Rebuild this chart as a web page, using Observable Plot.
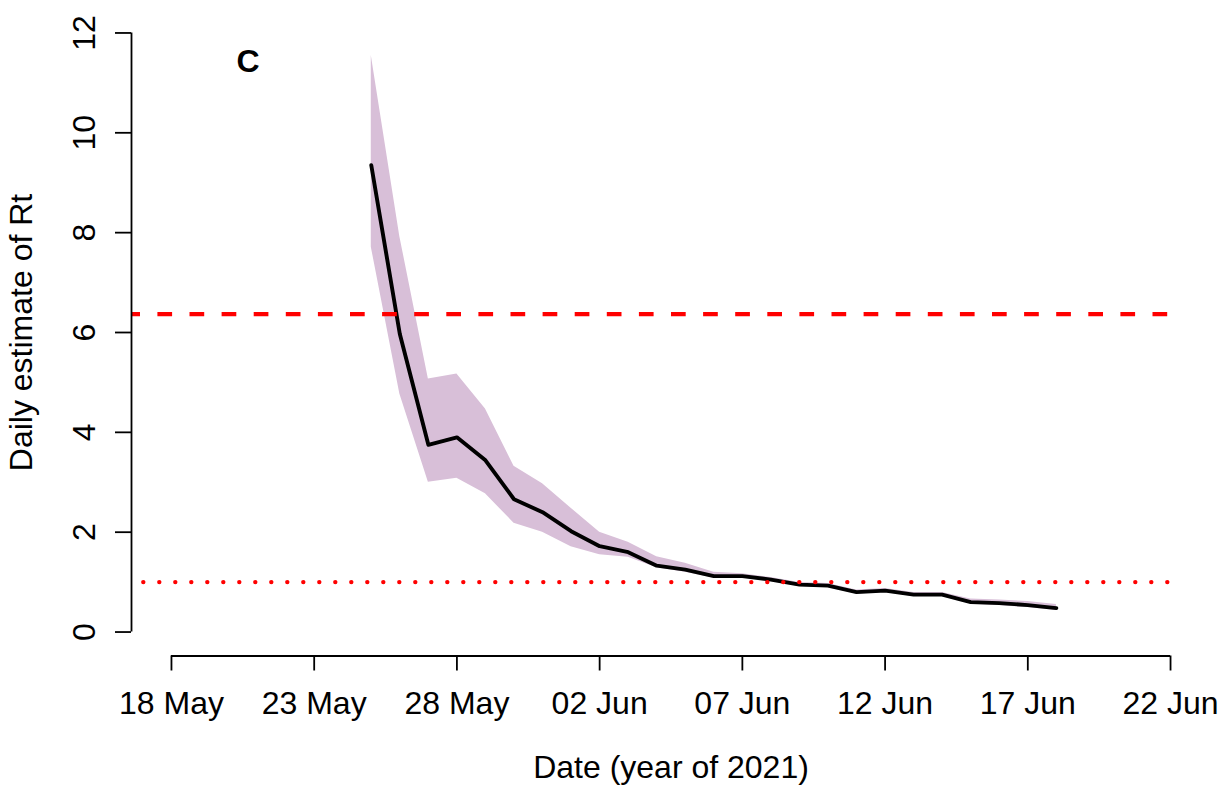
<!DOCTYPE html>
<html>
<head>
<meta charset="utf-8">
<script src="https://cdn.jsdelivr.net/npm/d3@7"></script>
<script src="https://cdn.jsdelivr.net/npm/@observablehq/plot@0.6"></script>
<style>
  html, body { margin: 0; padding: 0; background: #ffffff; }
  #chart svg { display: block; }
</style>
</head>
<body>
<div id="chart"></div>
<script>
// ---- Data ----
const dates = ["2021-05-25","2021-05-26","2021-05-27","2021-05-28","2021-05-29","2021-05-30","2021-05-31",
  "2021-06-01","2021-06-02","2021-06-03","2021-06-04","2021-06-05","2021-06-06","2021-06-07","2021-06-08",
  "2021-06-09","2021-06-10","2021-06-11","2021-06-12","2021-06-13","2021-06-14","2021-06-15","2021-06-16",
  "2021-06-17","2021-06-18"];
const rtMean  = [9.35, 5.97, 3.75, 3.90, 3.44, 2.66, 2.40, 2.02, 1.72, 1.60, 1.33, 1.25, 1.12, 1.12, 1.05,
  0.95, 0.93, 0.80, 0.83, 0.75, 0.75, 0.60, 0.58, 0.54, 0.48];
const rtLower = [7.71, 4.77, 3.00, 3.08, 2.77, 2.18, 2.00, 1.71, 1.55, 1.50, 1.29, 1.20, 1.08, 1.08, 1.01,
  0.91, 0.89, 0.76, 0.79, 0.71, 0.71, 0.56, 0.53, 0.49, 0.43];
const rtUpper = [11.55, 7.92, 5.07, 5.17, 4.47, 3.32, 2.97, 2.48, 2.00, 1.80, 1.51, 1.38, 1.20, 1.17, 1.09,
  0.99, 0.97, 0.84, 0.87, 0.79, 0.79, 0.66, 0.64, 0.61, 0.55];

const xTickDates  = ["2021-05-18","2021-05-23","2021-05-28","2021-06-02","2021-06-07","2021-06-12","2021-06-17","2021-06-22"];
const xTickLabels = ["18 May","23 May","28 May","02 Jun","07 Jun","12 Jun","17 Jun","22 Jun"];
const yTicks = [0, 2, 4, 6, 8, 10, 12];
const yTickLabels = ["0", "2", "4", "6", "8", "10", "12"];

const thresholdHigh = 6.37;
const thresholdOne = 1;
const panelLabel = "C";
const xTitle = "Date (year of 2021)";
const yTitle = "Daily estimate of Rt";

// ---- Build table ----
const parse = d3.utcParse("%Y-%m-%d");
const rows = dates.map((d, i) => ({date: parse(d), mean: rtMean[i], lo: rtLower[i], hi: rtUpper[i]}));
const xt = xTickDates.map(parse);
const DAY = 864e5;
const pad = 1.4 * DAY;               // R-style 4% range padding
const xLeft = new Date(+xt[0] - pad);
const xRight = new Date(+xt[xt.length - 1] + pad);
const yMin = -0.48, yMax = 12.48;

const font = "'Liberation Sans', Arial, Helvetica, sans-serif";
const fs = 32;

const chart = Plot.plot({
  width: 1225,
  height: 786,
  marginLeft: 131,
  marginRight: 15,
  marginTop: 8.5,
  marginBottom: 130.5,
  style: {fontFamily: font, fontSize: fs + "px", background: "#ffffff", color: "#000000", overflow: "visible"},
  x: {type: "utc", domain: [xLeft, xRight], axis: null},
  y: {domain: [yMin, yMax], axis: null},
  marks: [
    Plot.areaY(rows, {x: "date", y1: "lo", y2: "hi", fill: "#D8BFD8", fillOpacity: 1}),
    Plot.line(rows, {x: "date", y: "mean", stroke: "#000000", strokeWidth: 3.9,
      strokeLinejoin: "round", strokeLinecap: "round"}),
    Plot.ruleY([thresholdHigh], {x1: () => xLeft, x2: () => xt[xt.length - 1], stroke: "#FF0000",
      strokeWidth: 4.2, strokeDasharray: "14.7,17.4", strokeDashoffset: 5.7}),
    Plot.ruleY([thresholdOne], {x1: () => xLeft, x2: () => xt[xt.length - 1], stroke: "#FF0000",
      strokeWidth: 4.4, strokeDasharray: "0,16", strokeLinecap: "round", strokeDashoffset: 3.7}),
    // x axis (line from first to last tick, R style)
    Plot.ruleY([yMin], {x1: () => xt[0], x2: () => xt[xt.length - 1], stroke: "#000000", strokeWidth: 1.8}),
    Plot.axisX({ticks: xt, tickSize: 15, tickPadding: 20, stroke: "#000000", strokeWidth: 1.8,
      fontSize: fs, label: null,
      tickFormat: d => xTickLabels[xt.findIndex(t => +t === +d)]}),
    // y axis
    Plot.ruleX([xLeft], {y1: () => yTicks[0], y2: () => yTicks[yTicks.length - 1], stroke: "#000000", strokeWidth: 1.8}),
    Plot.axisY({ticks: yTicks, tickSize: 16, stroke: "#000000", strokeWidth: 1.8, label: null,
      tickFormat: () => ""}),
    Plot.text(yTicks, {x: () => xLeft, y: d => d, text: (d, i) => yTickLabels[i], rotate: -90, dx: -47,
      textAnchor: "middle", lineAnchor: "middle", fontSize: fs, fill: "#000000"}),
    // titles
    Plot.text([yTitle], {frameAnchor: "left", dx: -110, rotate: -90, textAnchor: "middle",
      lineAnchor: "middle", fontSize: fs, fill: "#000000"}),
    Plot.text([xTitle], {frameAnchor: "bottom", dy: 112, textAnchor: "middle",
      lineAnchor: "middle", fontSize: fs, fill: "#000000"}),
    Plot.text([panelLabel], {frameAnchor: "top-left", dx: 116.5, dy: 52.5, textAnchor: "middle",
      lineAnchor: "middle", fontSize: fs, fontWeight: "bold", fill: "#000000"})
  ]
});
document.getElementById("chart").appendChild(chart);
</script>
</body>
</html>
